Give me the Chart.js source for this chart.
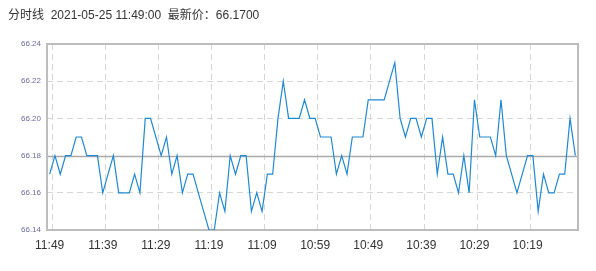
<!DOCTYPE html>
<html>
<head>
<meta charset="utf-8">
<script src="https://cdn.jsdelivr.net/npm/chart.js@4/dist/chart.umd.min.js"></script>
<style>
  html, body { margin: 0; padding: 0; background: #fff; }
  #wrap { width: 596px; height: 271px; }
</style>
</head>
<body>
<div id="wrap"><canvas id="lineChart"></canvas></div>
<script>
const titleText = '分时线  2021-05-25 11:49:00  最新价：66.1700';
const prevClose = 66.18;

const times = [
  '11:49','11:48','11:47','11:46','11:45','11:44','11:43','11:42','11:41','11:40',
  '11:39','11:38','11:37','11:36','11:35','11:34','11:33','11:32','11:31','11:30',
  '11:29','11:28','11:27','11:26','11:25','11:24','11:23','11:22','11:21','11:20',
  '11:19','11:18','11:17','11:16','11:15','11:14','11:13','11:12','11:11','11:10',
  '11:09','11:08','11:07','11:06','11:05','11:04','11:03','11:02','11:01','11:00',
  '10:59','10:58','10:57','10:56','10:55','10:54','10:53','10:52','10:51','10:50',
  '10:49','10:48','10:47','10:46','10:45','10:44','10:43','10:42','10:41','10:40',
  '10:39','10:38','10:37','10:36','10:35','10:34','10:33','10:32','10:31','10:30',
  '10:29','10:28','10:27','10:26','10:25','10:24','10:23','10:22','10:21','10:20',
  '10:19','10:18','10:17','10:16','10:15','10:14','10:13','10:12','10:11','10:10'
];

const prices = [
  66.17, 66.18, 66.17, 66.18, 66.18, 66.19, 66.19, 66.18, 66.18, 66.18,
  66.16, 66.17, 66.18, 66.16, 66.16, 66.16, 66.17, 66.16, 66.20, 66.20,
  66.19, 66.18, 66.19, 66.17, 66.18, 66.16, 66.17, 66.17, 66.16, 66.15,
  66.14, 66.14, 66.16, 66.15, 66.18, 66.17, 66.18, 66.18, 66.15, 66.16,
  66.15, 66.17, 66.17, 66.20, 66.22, 66.20, 66.20, 66.20, 66.21, 66.20,
  66.20, 66.19, 66.19, 66.19, 66.17, 66.18, 66.17, 66.19, 66.19, 66.19,
  66.21, 66.21, 66.21, 66.21, 66.22, 66.23, 66.20, 66.19, 66.20, 66.20,
  66.19, 66.20, 66.20, 66.17, 66.19, 66.17, 66.17, 66.16, 66.18, 66.16,
  66.21, 66.19, 66.19, 66.19, 66.18, 66.21, 66.18, 66.17, 66.16, 66.17,
  66.18, 66.18, 66.15, 66.17, 66.16, 66.16, 66.17, 66.17, 66.20, 66.18
];

const yMin = 66.14;
const yMax = 66.24;
const yStep = 0.02;

// frame around the plot + the solid reference line at the previous close
const frameLines = {
  id: 'frameLines',
  beforeDatasetsDraw(chart) {
    const { ctx, chartArea: a, scales } = chart;
    ctx.save();
    ctx.strokeStyle = '#aaaaaa';
    ctx.lineWidth = 1.5;
    const y = Math.round(scales.y.getPixelForValue(prevClose)) + 0.5;
    ctx.beginPath();
    ctx.moveTo(a.left, y);
    ctx.lineTo(a.right, y);
    ctx.stroke();
    ctx.strokeStyle = '#bdbdbd';
    ctx.lineWidth = 2;
    ctx.strokeRect(a.left, a.top, a.right - a.left, a.bottom - a.top);
    ctx.restore();
  }
};

const gridDash = [6, 4];

new Chart(document.getElementById('lineChart'), {
  type: 'line',
  data: {
    labels: times,
    datasets: [{
      data: prices,
      borderColor: '#2089d4',
      borderWidth: 1.2,
      pointRadius: 0,
      tension: 0,
      fill: false
    }]
  },
  options: {
    responsive: true,
    maintainAspectRatio: false,
    animation: false,
    layout: { padding: { left: 8, right: 18, top: 0, bottom: 0 } },
    plugins: {
      legend: { display: false },
      tooltip: { enabled: false },
      title: {
        display: true,
        text: titleText,
        align: 'start',
        color: '#333',
        font: { family: '"Liberation Sans", "Noto Sans CJK SC", sans-serif', size: 12, weight: 'normal' },
        padding: { top: 8, bottom: 21.6 }
      }
    },
    scales: {
      x: {
        offset: true,
        afterFit: s => { s.height = 41; },
        border: { display: false, dash: gridDash },
        grid: {
          offset: true,
          drawTicks: false,
          color: c => (c.index % 10 === 1 ? '#d6d6d6' : 'rgba(0,0,0,0)'),
          lineWidth: 1
        },
        ticks: {
          autoSkip: false,
          maxRotation: 0,
          padding: 8,
          color: '#333',
          font: { family: '"Liberation Sans", sans-serif', size: 12 },
          callback: (v, i) => (i % 10 === 0 ? times[i] : '')
        }
      },
      y: {
        min: yMin,
        max: yMax,
        afterFit: s => { s.width = 39; },
        border: { display: false, dash: gridDash },
        grid: {
          drawTicks: false,
          color: c => (Math.abs(c.tick.value - prevClose) < 1e-6 ? 'rgba(0,0,0,0)' : '#d6d6d6'),
          lineWidth: 1
        },
        ticks: {
          stepSize: yStep,
          padding: 6,
          color: '#6b6b9e',
          font: { family: '"Liberation Sans", sans-serif', size: 8 },
          callback: v => v.toFixed(2)
        }
      }
    }
  },
  plugins: [frameLines]
});
</script>
</body>
</html>
